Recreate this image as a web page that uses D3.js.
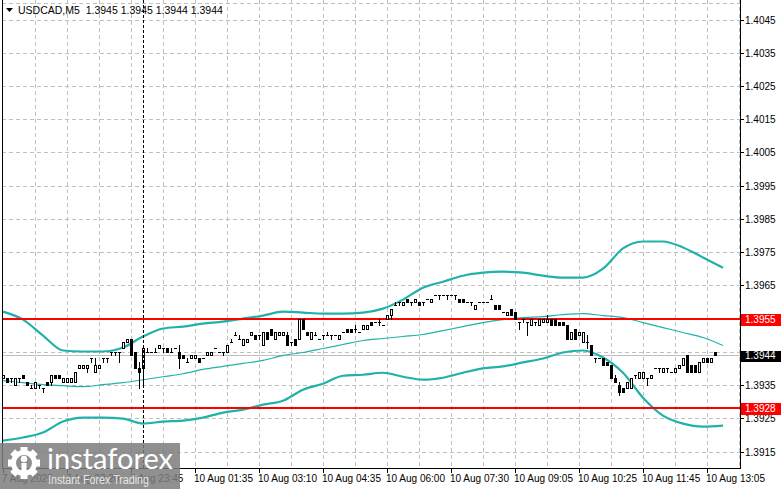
<!DOCTYPE html>
<html>
<head>
<meta charset="utf-8">
<title>USDCAD,M5</title>
<script src="https://d3js.org/d3.v7.min.js"></script>
<style>
    html,body {
        margin: 0;
        padding: 0;
        background-color: white;
        overflow: hidden;
    }
    svg { display: block; }
    text {
        font-family: 'Liberation Sans', Arial, sans-serif;
        font-size: 10px;
        fill: black;
    }
</style>
</head>
<body>
<div id="chart"></div>
<script>

//DATA
const symbol = 'USDCAD,M5'
const lastOHLC = ['1.3945', '1.3945', '1.3944', '1.3944']
const timeLabels = ['7 Aug 2025', '7 Aug 22:20', '7 Aug 23:45', '10 Aug 01:35', '10 Aug 03:10', '10 Aug 04:35',
                    '10 Aug 06:00', '10 Aug 07:30', '10 Aug 09:05', '10 Aug 10:25', '10 Aug 11:45', '10 Aug 13:05']
const timeBars = [0, 16, 32, 48, 64, 80, 96, 112, 128, 144, 160, 176]
const priceTicks = [1.3915, 1.3925, 1.3935, 1.3945, 1.3955, 1.3965, 1.3975, 1.3985, 1.3995,
                    1.4005, 1.4015, 1.4025, 1.4035, 1.4045]
const levels = [1.3955, 1.3928]
const lastPrice = 1.3944
const markerBar = 35

// open, high, low, close
const candles = [
[1.3937,1.3938,1.3937,1.3938],[1.3937,1.3937,1.3936,1.3936],[1.3937,1.3937,1.3936,1.3937],[1.3935,1.3937,1.3935,1.3937],
[1.3937,1.3937,1.3936,1.3937],[1.3938,1.3938,1.3937,1.3937],[1.3936,1.3936,1.3935,1.3935],[1.3934,1.3935,1.3934,1.3934],
[1.3934,1.3936,1.3934,1.3936],[1.3935,1.3935,1.3934,1.3935],[1.3934,1.3934,1.3933,1.3934],[1.3936,1.3936,1.3935,1.3935],
[1.3936,1.3938,1.3935,1.3938],[1.3938,1.3938,1.3937,1.3937],[1.3938,1.3938,1.3937,1.3937],[1.3936,1.3937,1.3936,1.3937],
[1.3936,1.3937,1.3936,1.3937],[1.3936,1.3937,1.3936,1.3937],[1.3936,1.3939,1.3936,1.3939],[1.3940,1.3941,1.3940,1.3941],
[1.3940,1.3941,1.3940,1.3941],[1.3940,1.3941,1.3939,1.3941],[1.3943,1.3943,1.3942,1.3943],[1.3939,1.3943,1.3939,1.3941],
[1.3940,1.3941,1.3940,1.3941],[1.3943,1.3943,1.3942,1.3943],[1.3943,1.3943,1.3942,1.3943],[1.3945,1.3945,1.3944,1.3945],
[1.3945,1.3945,1.3944,1.3945],[1.3945,1.3945,1.3942,1.3945],[1.3946,1.3948,1.3946,1.3948],[1.3948,1.3949,1.3948,1.3949],
[1.3949,1.3949,1.3944,1.3944],[1.3945,1.3945,1.3940,1.3940],[1.3940,1.3942,1.3934,1.3939],[1.3940,1.3946,1.3935,1.3946],
[1.3945,1.3946,1.3945,1.3945],[1.3945,1.3945,1.3945,1.3945],[1.3945,1.3946,1.3945,1.3945],[1.3946,1.3947,1.3946,1.3947],
[1.3946,1.3946,1.3945,1.3946],[1.3946,1.3946,1.3945,1.3945],[1.3945,1.3946,1.3945,1.3945],[1.3946,1.3946,1.3946,1.3946],
[1.3945,1.3947,1.3940,1.3943],[1.3944,1.3944,1.3943,1.3943],[1.3942,1.3943,1.3942,1.3942],[1.3943,1.3944,1.3943,1.3944],
[1.3943,1.3944,1.3943,1.3944],[1.3943,1.3943,1.3942,1.3942],[1.3943,1.3943,1.3943,1.3943],[1.3944,1.3945,1.3944,1.3945],
[1.3944,1.3945,1.3944,1.3945],[1.3946,1.3946,1.3946,1.3946],[1.3945,1.3945,1.3945,1.3945],[1.3945,1.3945,1.3944,1.3945],
[1.3945,1.3947,1.3945,1.3947],[1.3948,1.3949,1.3948,1.3948],[1.3950,1.3951,1.3950,1.3950],[1.3949,1.3950,1.3949,1.3949],
[1.3947,1.3949,1.3947,1.3949],[1.3948,1.3949,1.3948,1.3949],[1.3950,1.3951,1.3950,1.3951],[1.3950,1.3950,1.3949,1.3949],
[1.3950,1.3950,1.3949,1.3950],[1.3947,1.3951,1.3947,1.3951],[1.3951,1.3951,1.3949,1.3949],[1.3952,1.3952,1.3950,1.3950],
[1.3949,1.3951,1.3949,1.3951],[1.3950,1.3951,1.3950,1.3951],[1.3950,1.3951,1.3950,1.3951],[1.3950,1.3951,1.3947,1.3947],
[1.3948,1.3948,1.3947,1.3948],[1.3949,1.3949,1.3947,1.3947],[1.3949,1.3955,1.3949,1.3955],[1.3955,1.3955,1.3952,1.3952],
[1.3951,1.3951,1.3950,1.3950],[1.3949,1.3951,1.3949,1.3951],[1.3950,1.3951,1.3950,1.3950],[1.3949,1.3949,1.3949,1.3949],
[1.3950,1.3950,1.3949,1.3950],[1.3950,1.3951,1.3950,1.3950],[1.3950,1.3950,1.3949,1.3950],[1.3950,1.3950,1.3950,1.3950],
[1.3949,1.3950,1.3949,1.3950],[1.3951,1.3951,1.3951,1.3951],[1.3952,1.3952,1.3951,1.3951],[1.3952,1.3952,1.3951,1.3951],
[1.3952,1.3953,1.3951,1.3952],[1.3951,1.3951,1.3951,1.3951],[1.3952,1.3953,1.3952,1.3953],[1.3952,1.3953,1.3952,1.3953],
[1.3954,1.3954,1.3953,1.3953],[1.3954,1.3954,1.3954,1.3954],[1.3954,1.3955,1.3953,1.3954],[1.3953,1.3953,1.3953,1.3953],
[1.3955,1.3956,1.3955,1.3956],[1.3956,1.3958,1.3955,1.3958],[1.3959,1.3960,1.3959,1.3959],[1.3960,1.3960,1.3959,1.3960],
[1.3959,1.3960,1.3959,1.3960],[1.3961,1.3961,1.3960,1.3960],[1.3960,1.3960,1.3959,1.3960],[1.3960,1.3961,1.3960,1.3961],
[1.3960,1.3960,1.3959,1.3959],[1.3960,1.3960,1.3959,1.3960],[1.3961,1.3961,1.3961,1.3961],[1.3960,1.3961,1.3960,1.3961],
[1.3962,1.3962,1.3962,1.3962],[1.3962,1.3962,1.3961,1.3962],[1.3962,1.3962,1.3962,1.3962],[1.3962,1.3962,1.3961,1.3962],
[1.3962,1.3962,1.3962,1.3962],[1.3962,1.3962,1.3961,1.3962],[1.3961,1.3961,1.3960,1.3960],[1.3961,1.3961,1.3960,1.3960],
[1.3960,1.3960,1.3960,1.3960],[1.3960,1.3960,1.3959,1.3960],[1.3958,1.3959,1.3958,1.3959],[1.3960,1.3960,1.3960,1.3960],
[1.3960,1.3960,1.3960,1.3960],[1.3960,1.3960,1.3960,1.3960],[1.3961,1.3962,1.3961,1.3961],[1.3959,1.3959,1.3958,1.3958],
[1.3959,1.3959,1.3958,1.3958],[1.3957,1.3957,1.3957,1.3957],[1.3956,1.3957,1.3956,1.3957],[1.3958,1.3958,1.3956,1.3956],
[1.3957,1.3957,1.3955,1.3955],[1.3954,1.3954,1.3952,1.3954],[1.3955,1.3955,1.3954,1.3955],[1.3954,1.3954,1.3950,1.3954],
[1.3953,1.3955,1.3953,1.3955],[1.3954,1.3954,1.3953,1.3954],[1.3953,1.3955,1.3953,1.3955],[1.3954,1.3955,1.3954,1.3955],
[1.3954,1.3956,1.3954,1.3955],[1.3955,1.3955,1.3953,1.3953],[1.3955,1.3955,1.3953,1.3953],[1.3954,1.3954,1.3953,1.3953],
[1.3954,1.3954,1.3953,1.3953],[1.3953,1.3953,1.3949,1.3949],[1.3949,1.3951,1.3949,1.3951],[1.3952,1.3952,1.3949,1.3949],
[1.3950,1.3951,1.3950,1.3951],[1.3948,1.3951,1.3948,1.3951],[1.3948,1.3950,1.3946,1.3948],[1.3947,1.3947,1.3944,1.3944],
[1.3943,1.3943,1.3942,1.3943],[1.3943,1.3943,1.3943,1.3943],[1.3943,1.3943,1.3941,1.3941],[1.3942,1.3942,1.3941,1.3941],
[1.3941,1.3941,1.3937,1.3937],[1.3937,1.3938,1.3936,1.3936],[1.3935,1.3936,1.3932,1.3933],[1.3934,1.3934,1.3933,1.3933],
[1.3934,1.3936,1.3934,1.3936],[1.3934,1.3937,1.3934,1.3937],[1.3938,1.3938,1.3937,1.3938],[1.3937,1.3939,1.3937,1.3939],
[1.3937,1.3939,1.3937,1.3939],[1.3937,1.3937,1.3935,1.3937],[1.3937,1.3938,1.3937,1.3938],[1.3940,1.3940,1.3940,1.3940],
[1.3940,1.3940,1.3939,1.3940],[1.3939,1.3940,1.3939,1.3940],[1.3940,1.3940,1.3939,1.3940],[1.3939,1.3939,1.3939,1.3939],
[1.3939,1.3940,1.3939,1.3940],[1.3940,1.3941,1.3940,1.3941],[1.3941,1.3943,1.3941,1.3943],[1.3944,1.3944,1.3939,1.3939],
[1.3941,1.3941,1.3939,1.3939],[1.3941,1.3941,1.3939,1.3939],[1.3939,1.3942,1.3939,1.3942],[1.3942,1.3943,1.3942,1.3943],
[1.3943,1.3943,1.3942,1.3942],[1.3942,1.3943,1.3942,1.3943],[1.3945,1.3945,1.3944,1.3944]
]

// bollinger bands, read every 5 bars
const bandBars = [0, 5, 10, 15, 20, 25, 30, 35, 40, 45, 50, 55, 60, 65, 70, 75, 80, 85, 90,
                  95, 100, 105, 110, 115, 120, 125, 130, 135, 140, 145, 150, 155, 160, 165, 170, 175, 180]
const bandUpper = [1.39571, 1.39547, 1.39499, 1.39454, 1.39451, 1.39451, 1.39463, 1.39496, 1.39520, 1.39526,
                   1.39535, 1.39541, 1.39550, 1.39559, 1.39571, 1.39568, 1.39565, 1.39565, 1.39568, 1.39580,
                   1.39607, 1.39643, 1.39661, 1.39679, 1.39688, 1.39691, 1.39688, 1.39679, 1.39673, 1.39673,
                   1.39700, 1.39761, 1.39782, 1.39782, 1.39764, 1.39734, 1.39703]
const bandMiddle = [1.39363, 1.39357, 1.39351, 1.39348, 1.39345, 1.39351, 1.39357, 1.39366, 1.39375, 1.39384,
                    1.39397, 1.39406, 1.39415, 1.39424, 1.39439, 1.39448, 1.39460, 1.39472, 1.39484, 1.39490,
                    1.39496, 1.39502, 1.39514, 1.39526, 1.39538, 1.39547, 1.39553, 1.39556, 1.39562, 1.39565,
                    1.39559, 1.39553, 1.39538, 1.39523, 1.39508, 1.39493, 1.39469]
const bandLower = [1.39183, 1.39192, 1.39207, 1.39240, 1.39252, 1.39252, 1.39249, 1.39234, 1.39240, 1.39243,
                   1.39252, 1.39267, 1.39276, 1.39291, 1.39303, 1.39336, 1.39354, 1.39378, 1.39381, 1.39387,
                   1.39375, 1.39366, 1.39372, 1.39387, 1.39400, 1.39406, 1.39418, 1.39430, 1.39448, 1.39454,
                   1.39433, 1.39387, 1.39312, 1.39258, 1.39234, 1.39225, 1.39228]

//LAYOUT
const W = 781, H = 489
const left = 2, right = 740, bottom = 468
const teal = '#20b2aa'
const red = '#ff0000'
const grid = '#c0c0c0'

const x = d3.scaleLinear().domain([0, 178]).range([3, 715])
const y = d3.scaleLinear().domain([1.3915, 1.4045]).range([451.5, 19.5])
const px = v => Math.round(x(v))
const py = v => Math.round(y(v))

const svg = d3.select('#chart').append('svg')
    .attr('width', W)
    .attr('height', H)
    .attr('shape-rendering', 'crispEdges')

//GRID
svg.append('line')
    .attr('x1', left).attr('x2', right).attr('y1', 3.5).attr('y2', 3.5)
    .attr('stroke', grid).attr('stroke-dasharray', '4,3')

svg.append('g').selectAll('line')
    .data(priceTicks).join('line')
    .attr('x1', left).attr('x2', right)
    .attr('y1', d => py(d) + 0.5).attr('y2', d => py(d) + 0.5)
    .attr('stroke', grid).attr('stroke-dasharray', '4,3')

svg.append('g').selectAll('line')
    .data(d3.range(8, 185, 8)).join('line')
    .attr('x1', d => px(d) + 0.5).attr('x2', d => px(d) + 0.5)
    .attr('y1', 0).attr('y2', bottom)
    .attr('stroke', grid).attr('stroke-dasharray', '4,3')

// current price line
svg.append('line')
    .attr('x1', left).attr('x2', right)
    .attr('y1', py(lastPrice) + 0.5).attr('y2', py(lastPrice) + 0.5)
    .attr('stroke', '#c0c0c0')

//BANDS
const band = vals => d3.line()
    .x((d, i) => x(bandBars[i]))
    .y(d => y(d))
    .curve(d3.curveMonotoneX)(vals)

const bands = svg.append('g').attr('shape-rendering', 'auto').attr('fill', 'none').attr('stroke', teal)
bands.append('path').attr('d', band(bandMiddle)).attr('stroke-width', 1.2)
bands.append('path').attr('d', band(bandUpper)).attr('stroke-width', 2.2)
bands.append('path').attr('d', band(bandLower)).attr('stroke-width', 2.2)

//LEVELS
svg.append('g').selectAll('line')
    .data(levels).join('line')
    .attr('x1', left).attr('x2', right)
    .attr('y1', d => y(d)).attr('y2', d => y(d))
    .attr('stroke', red).attr('stroke-width', 2)

//CANDLES
const cg = svg.append('g')
candles.forEach((c, i) => {
    let [o, h, l, cl] = c
    let cx = px(i)
    let top = py(Math.max(o, cl)), bot = py(Math.min(o, cl))

    cg.append('line')
        .attr('x1', cx + 0.5).attr('x2', cx + 0.5)
        .attr('y1', py(h)).attr('y2', py(l) + 1)
        .attr('stroke', 'black')

    if (top == bot) {
        cg.append('line')
            .attr('x1', cx - 1).attr('x2', cx + 2)
            .attr('y1', top + 0.5).attr('y2', top + 0.5)
            .attr('stroke', 'black')
    } else {
        cg.append('rect')
            .attr('x', cx - 0.5).attr('width', 2)
            .attr('y', top + 0.5).attr('height', bot - top)
            .attr('fill', cl > o ? 'white' : 'black')
            .attr('stroke', 'black')
    }
})

// dashed marker
svg.append('line')
    .attr('x1', px(markerBar) + 0.5).attr('x2', px(markerBar) + 0.5)
    .attr('y1', 0).attr('y2', bottom)
    .attr('stroke', 'black').attr('stroke-dasharray', '3,2')

//FRAME
svg.append('path')
    .attr('d', `M${left + 0.5},0 V${bottom + 0.5} H${right + 0.5} V0`)
    .attr('fill', 'none').attr('stroke', 'black')

//AXES
svg.append('g').selectAll('line')
    .data(priceTicks).join('line')
    .attr('x1', right).attr('x2', right + 4)
    .attr('y1', d => py(d) + 0.5).attr('y2', d => py(d) + 0.5)
    .attr('stroke', 'black')

// tick labels hidden under a price tag are left out
const tagged = levels.concat([lastPrice])
svg.append('g').selectAll('text')
    .data(priceTicks.filter(d => tagged.every(t => Math.abs(y(d) - y(t)) > 8))).join('text')
    .attr('x', right + 5)
    .attr('y', d => y(d) + 4)
    .text(d => d.toFixed(4))

svg.append('g').selectAll('line')
    .data(timeBars).join('line')
    .attr('x1', d => px(d) + 0.5).attr('x2', d => px(d) + 0.5)
    .attr('y1', bottom).attr('y2', bottom + 5)
    .attr('stroke', 'black')

svg.append('g').selectAll('text')
    .data(timeBars).join('text')
    .attr('x', d => px(d) - 1)
    .attr('y', bottom + 14)
    .text((d, i) => timeLabels[i])

// price labels
const tag = (val, color, hgt) => {
    svg.append('rect')
        .attr('x', right + 1).attr('width', W - right - 1)
        .attr('y', py(val) - hgt / 2 + 1).attr('height', hgt)
        .attr('fill', color)
    svg.append('text')
        .attr('x', right + 5).attr('y', y(val) + 4)
        .style('fill', 'white')
        .text(val.toFixed(4))
}
levels.forEach(v => tag(v, red, 12))
tag(lastPrice, 'black', 11)

//HEADER
svg.append('path')
    .attr('d', 'M6,8 L13,8 L9.5,12 Z')
    .attr('shape-rendering', 'auto')
    .attr('fill', 'black')
svg.append('text')
    .attr('x', 18).attr('y', 14)
    .style('white-space', 'pre')
    .style('font-size', '10.5px')
    .text(symbol + '  ' + lastOHLC.join(' '))

//WATERMARK
const wm = svg.append('g').attr('shape-rendering', 'auto')
wm.append('rect')
    .attr('x', 0).attr('y', 443).attr('width', 180).attr('height', H - 443)
    .attr('fill', 'rgb(125,125,125)').attr('fill-opacity', 0.85)

const gear = wm.append('g').attr('transform', 'translate(24,463)')
gear.selectAll('rect')
    .data(d3.range(8)).join('rect')
    .attr('x', -3.5).attr('y', -16).attr('width', 7).attr('height', 8)
    .attr('transform', d => 'rotate(' + (d * 45) + ')')
    .attr('fill', 'white')
gear.append('circle').attr('r', 10.5).attr('fill', 'none').attr('stroke', 'white').attr('stroke-width', 5)
gear.append('circle').attr('cy', -4).attr('r', 3.2).attr('fill', 'white')
gear.append('rect').attr('x', -2.6).attr('y', 0).attr('width', 5.2).attr('height', 12).attr('fill', 'white')

wm.append('text')
    .attr('x', 47).attr('y', 469)
    .attr('textLength', 126).attr('lengthAdjust', 'spacingAndGlyphs')
    .style('font-family', 'Lato, "Open Sans", sans-serif')
    .style('font-size', '29px')
    .style('fill', 'white')
    .text('instaforex')

wm.append('text')
    .attr('x', 48).attr('y', 484)
    .attr('textLength', 101).attr('lengthAdjust', 'spacingAndGlyphs')
    .style('font-size', '12px')
    .style('fill', '#e6e6e6')
    .text('Instant Forex Trading')

</script>
</body>
</html>
